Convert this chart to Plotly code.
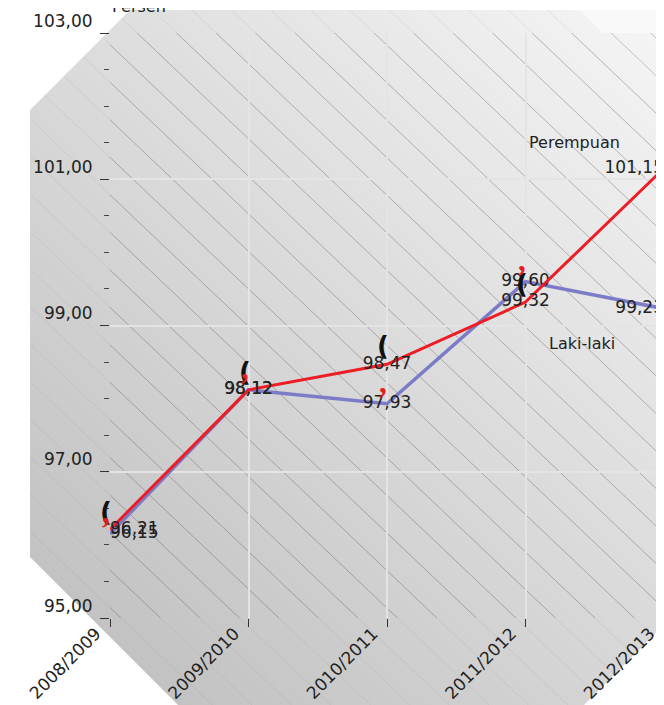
import base64
import plotly.graph_objects as go

tahun = ["2008/2009", "2009/2010", "2010/2011", "2011/2012", "2012/2013"]
perempuan = [96.21, 98.12, 98.47, 99.32, 101.15]
laki_laki = [96.15, 98.12, 97.93, 99.60, 99.23]

# the page has an 8px body margin, so the figure is 8px smaller than the window
W, H = 656, 697
L, T, B = 102, 25, 87
pw, ph = W - L, H - T - B
FONT = "DejaVu Sans"


def background():
    # grey octagon with a diagonal gradient, the plot area filled again on top, \\\ hatching
    oct_pts = "22,102 122,2 572,2 692,122 692,581 561,712 185,712 22,549"
    lines = ""
    for k in range(-22, 20):
        x0 = 102.8 + 39.5 * k
        lines += f'<line x1="{x0:.1f}" y1="0" x2="{x0 + H / 0.95:.1f}" y2="{H}"/>'
    svg = f'''<svg xmlns="http://www.w3.org/2000/svg" width="{W}" height="{H}" viewBox="0 0 {W} {H}">
<defs>
<linearGradient id="g" x1="-8" y1="{H}" x2="{W}" y2="-8" gradientUnits="userSpaceOnUse">
<stop offset="0" stop-color="#bbbbbb"/><stop offset="1" stop-color="#f6f6f6"/>
</linearGradient>
<clipPath id="oct"><polygon points="{oct_pts}"/></clipPath>
<clipPath id="pa"><rect x="{L}" y="{T}" width="{pw}" height="{ph}"/></clipPath>
</defs>
<polygon points="572,2 {W},2 {W},{T} 595,{T}" fill="#f9f9f9"/>
<polygon points="{oct_pts}" fill="url(#g)"/>
<rect x="{L}" y="{T}" width="{pw}" height="{ph}" fill="url(#g)"/>
<g clip-path="url(#oct)" stroke="#777" stroke-opacity="0.15" stroke-width="0.8">{lines}</g>
<g clip-path="url(#pa)" stroke="#555" stroke-opacity="0.42" stroke-width="0.75">{lines}</g>
</svg>'''
    return "data:image/svg+xml;base64," + base64.b64encode(svg.encode()).decode()


fig = go.Figure()

label_pos = ["middle right", "middle center", "middle center", "middle center", "middle left"]
fig.add_trace(go.Scatter(
    x=tahun, y=laki_laki, mode="lines+text", name="Laki-laki",
    line=dict(color="#7b7bc8", width=3.5),
    text=laki_laki, texttemplate="%{y:.2f}", textposition=label_pos,
    textfont=dict(family=FONT, size=17, color="#222"),
    cliponaxis=False,
))
fig.add_trace(go.Scatter(
    x=tahun, y=perempuan, mode="lines+text", name="Perempuan",
    line=dict(color="#ee1c24", width=3),
    text=perempuan, texttemplate="%{y:.2f}", textposition=label_pos,
    textfont=dict(family=FONT, size=17, color="#222"),
    cliponaxis=False,
))

# glyphs left over from the original markers
for x, y in zip(tahun, perempuan):
    fig.add_annotation(x=x, y=y, text="(", showarrow=False, xshift=-4, yshift=18,
                       font=dict(family=FONT, size=26, color="#111", weight=700))
for x, y in zip(tahun, laki_laki):
    fig.add_annotation(x=x, y=y, text=",", showarrow=False, xshift=-4, yshift=21,
                       font=dict(family="Liberation Serif", size=31, color="#e3201f", weight=700))

fig.add_annotation(x=3.357, y=101.5, text="Perempuan", showarrow=False,
                   font=dict(family=FONT, size=16, color="#222"))
fig.add_annotation(x=3.408, y=98.75, text="Laki-laki", showarrow=False,
                   font=dict(family=FONT, size=16, color="#222"))
fig.add_annotation(xref="paper", yref="paper", x=0, y=1, xanchor="left", yanchor="middle",
                   yshift=27, text="Persen", showarrow=False,
                   font=dict(family=FONT, size=16, color="#222"))

fig.add_layout_image(
    source=background(), xref="paper", yref="paper",
    x=-L / pw, y=1 + T / ph, sizex=W / pw, sizey=H / ph,
    xanchor="left", yanchor="top", sizing="stretch", layer="below",
)

fig.update_xaxes(
    type="category", categoryorder="array", categoryarray=tahun,
    range=[0, len(tahun) - 1], tickangle=-45,
    showgrid=True, gridcolor="#e4e4e4", gridwidth=1.5,
    ticks="outside", ticklen=8, tickcolor="#333", showline=False, zeroline=False,
    ticklabelshift=-14, ticklabelstandoff=-10,
    tickfont=dict(family=FONT, size=17, color="#222"),
)
fig.update_yaxes(
    range=[95, 103], tick0=95, dtick=2, tickformat=".2f",
    showgrid=True, gridcolor="#e4e4e4", gridwidth=1.5,
    ticks="outside", ticklen=9, tickcolor="#333", showline=False, zeroline=False,
    ticklabelposition="outside top", ticklabelstandoff=13,
    minor=dict(tick0=95, dtick=0.5, ticks="outside", ticklen=5, tickcolor="#444", showgrid=False),
    tickfont=dict(family=FONT, size=17, color="#222"),
)
fig.update_layout(
    width=W, height=H, margin=dict(l=L, r=0, t=T, b=B, autoexpand=False),
    paper_bgcolor="white", plot_bgcolor="rgba(0,0,0,0)",
    separators=",.", showlegend=False,
    font=dict(family=FONT),
)

fig.write_html("out.html")
